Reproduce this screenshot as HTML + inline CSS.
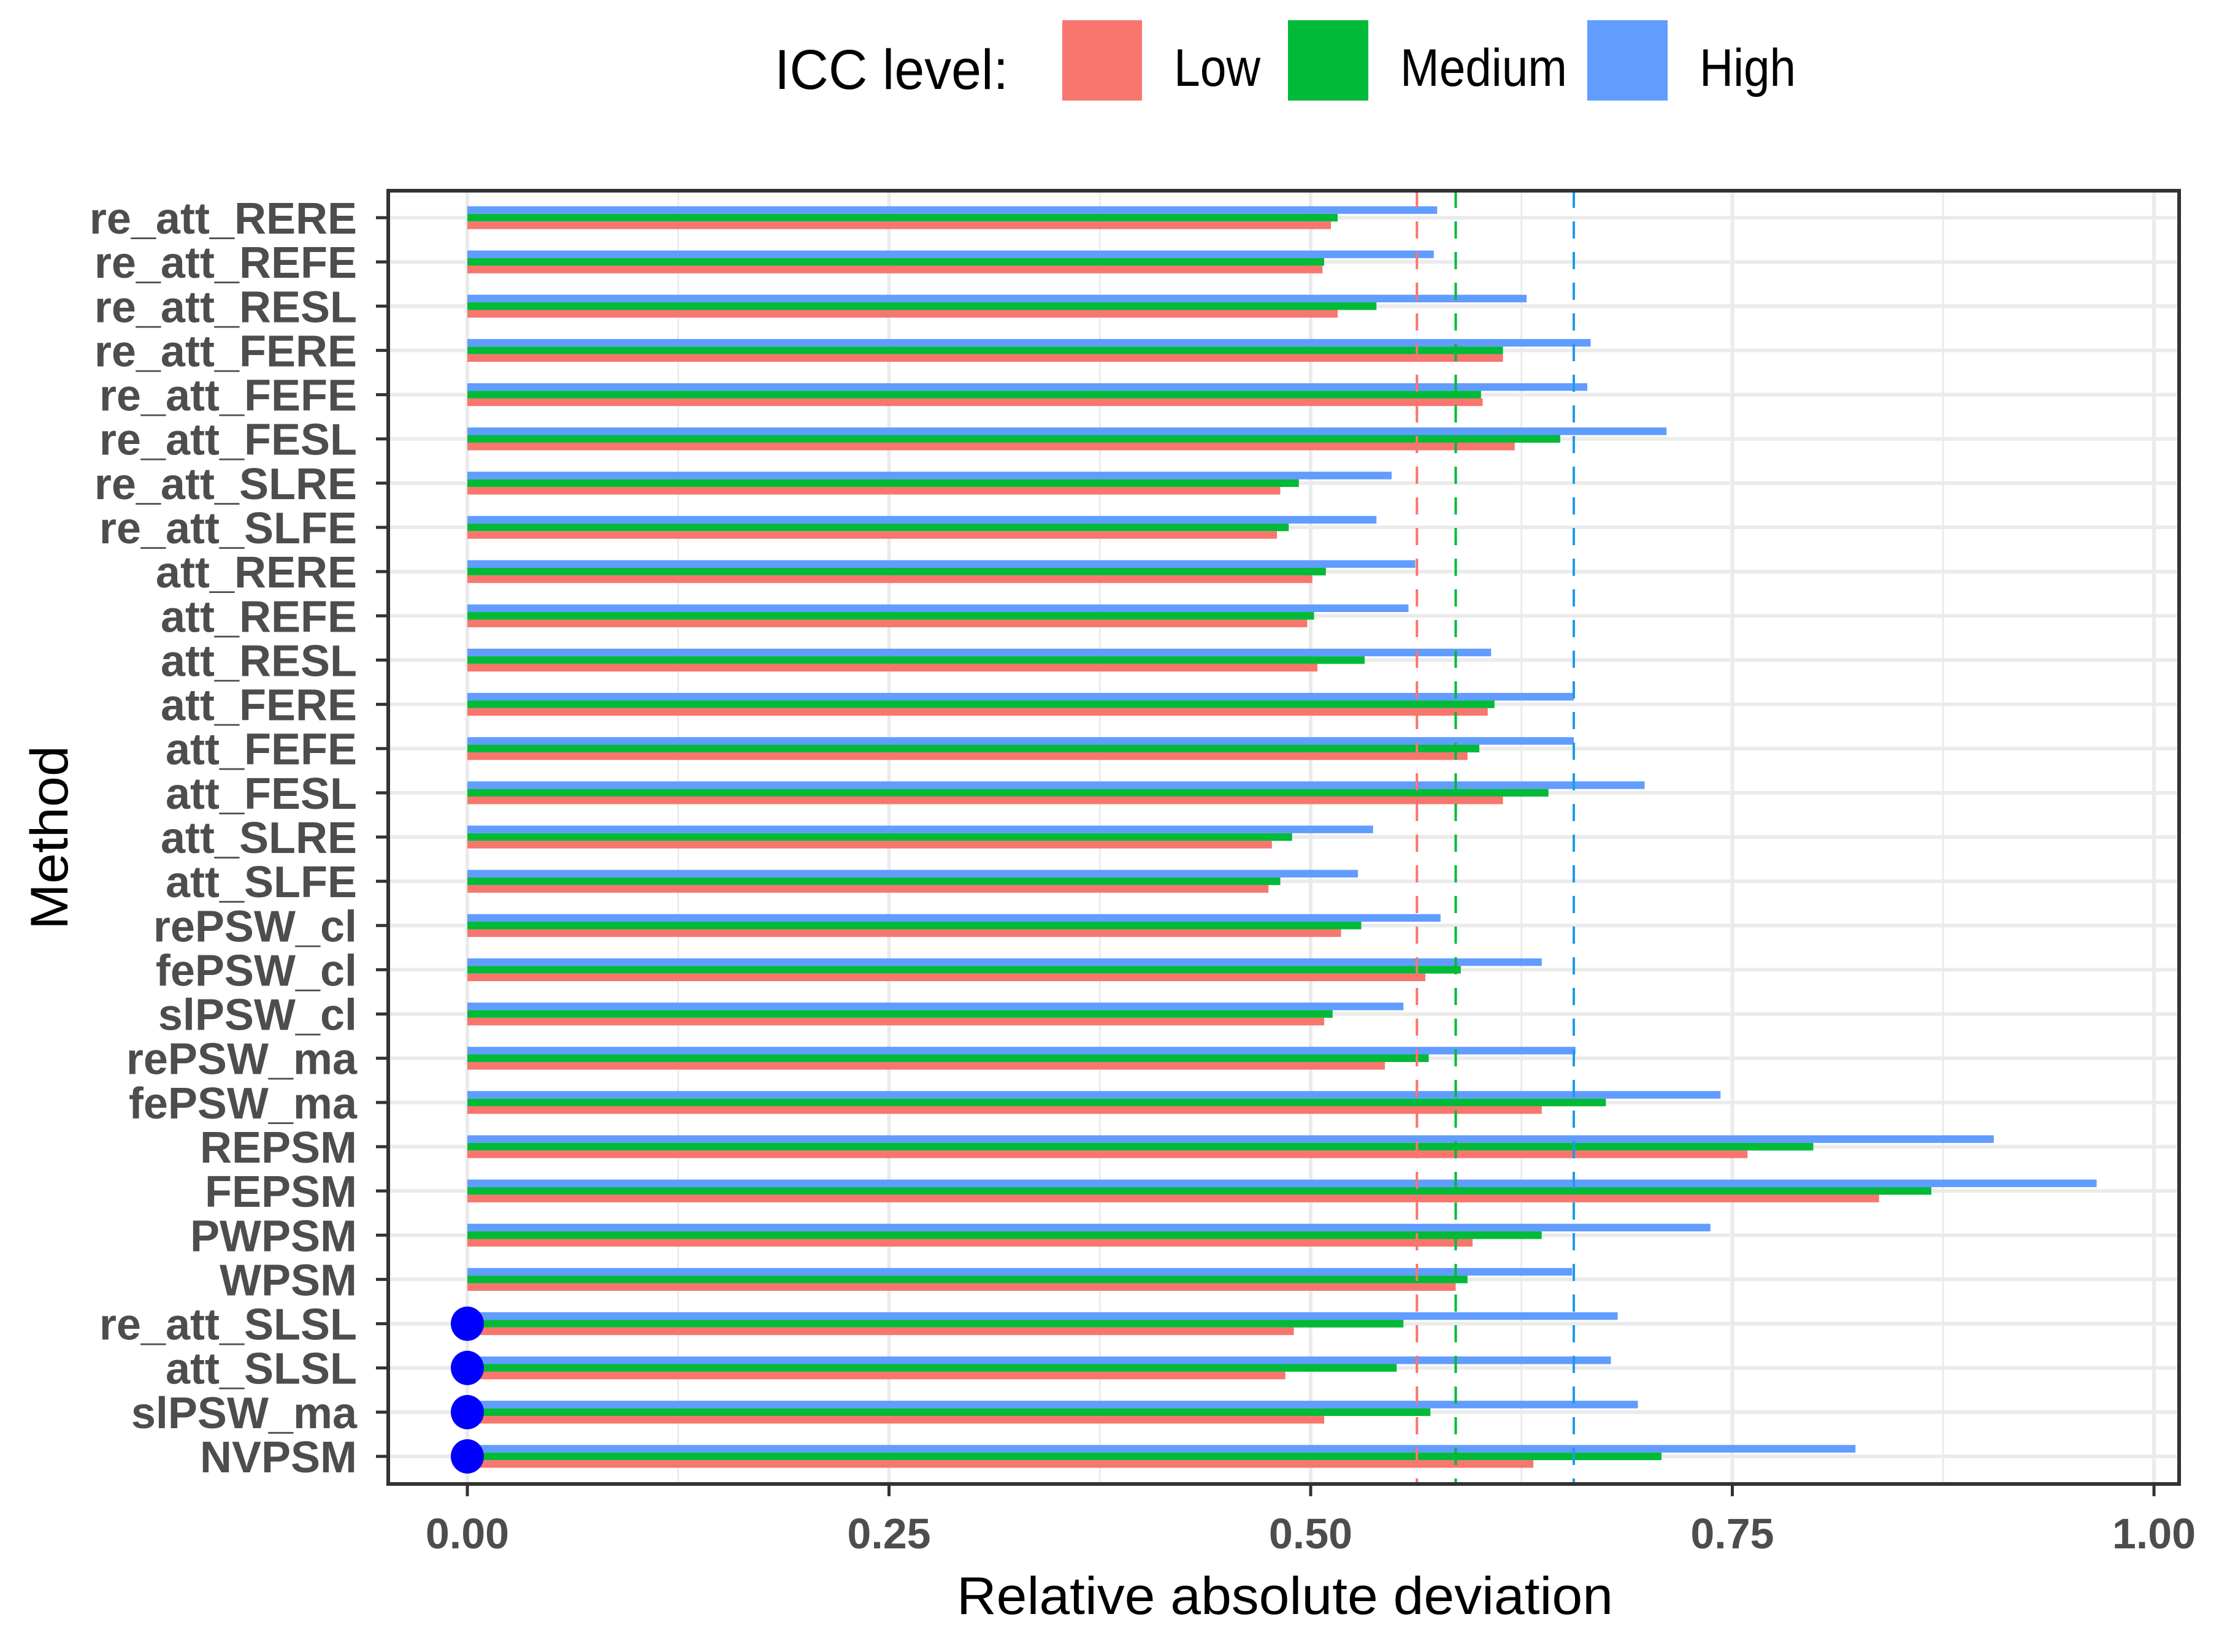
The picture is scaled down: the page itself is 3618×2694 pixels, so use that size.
<!DOCTYPE html>
<html><head><meta charset="utf-8"><style>
html,body{margin:0;padding:0;background:#fff;}
svg{display:block;}
text{font-family:"Liberation Sans",sans-serif;}
</style></head><body>
<svg id="chart" width="3618" height="2694" viewBox="0 0 3618 2694" xmlns="http://www.w3.org/2000/svg">
<g id="legend">
  <text x="1263" y="145" font-size="92" fill="#000" textLength="381" lengthAdjust="spacingAndGlyphs">ICC level:</text>
  <rect x="1732" y="33" width="130" height="131" fill="#F8766D"/>
  <text x="1914" y="140" font-size="86" fill="#000" textLength="141" lengthAdjust="spacingAndGlyphs">Low</text>
  <rect x="2100" y="33" width="131" height="131" fill="#00BA38"/>
  <text x="2283" y="140" font-size="86" fill="#000" textLength="272" lengthAdjust="spacingAndGlyphs">Medium</text>
  <rect x="2588" y="33" width="131" height="131" fill="#619CFF"/>
  <text x="2771" y="140" font-size="86" fill="#000" textLength="157" lengthAdjust="spacingAndGlyphs">High</text>
</g>
<g id="plot"></g>
<text x="1560" y="2632" font-size="86" fill="#000" textLength="1070" lengthAdjust="spacingAndGlyphs">Relative absolute deviation</text>
<text font-size="86" fill="#000" text-anchor="middle" textLength="300" lengthAdjust="spacingAndGlyphs" transform="translate(110,1366) rotate(-90)">Method</text>
</svg>
<script>
const categories = ["re_att_RERE","re_att_REFE","re_att_RESL","re_att_FERE","re_att_FEFE","re_att_FESL","re_att_SLRE","re_att_SLFE","att_RERE","att_REFE","att_RESL","att_FERE","att_FEFE","att_FESL","att_SLRE","att_SLFE","rePSW_cl","fePSW_cl","slPSW_cl","rePSW_ma","fePSW_ma","REPSM","FEPSM","PWPSM","WPSM","re_att_SLSL","att_SLSL","slPSW_ma","NVPSM"];
const highValues = [0.575,0.573,0.628,0.666,0.664,0.711,0.548,0.539,0.562,0.558,0.607,0.656,0.656,0.698,0.537,0.528,0.577,0.637,0.555,0.657,0.743,0.905,0.966,0.737,0.655,0.682,0.678,0.694,0.823];
const mediumValues = [0.516,0.508,0.539,0.614,0.601,0.648,0.493,0.487,0.509,0.502,0.532,0.609,0.600,0.641,0.489,0.482,0.530,0.589,0.513,0.570,0.675,0.798,0.868,0.637,0.593,0.555,0.551,0.571,0.708];
const lowValues = [0.512,0.507,0.516,0.614,0.602,0.621,0.482,0.480,0.501,0.498,0.504,0.605,0.593,0.614,0.477,0.475,0.518,0.568,0.508,0.544,0.637,0.759,0.837,0.596,0.586,0.490,0.485,0.508,0.632];
const meanLines = [0.563,0.586,0.656];
const zeroFlags = ["re_att_SLSL","att_SLSL","slPSW_ma","NVPSM"];
const xTicks = [0,0.25,0.5,0.75,1];
const xTickLabels = ["0.00","0.25","0.50","0.75","1.00"];

const NS="http://www.w3.org/2000/svg";
const P={l:633,r:3553,t:311,b:2420};
const x=v=>762+v*2750;
const g=document.getElementById('plot');
function mk(tag,a){const e=document.createElementNS(NS,tag);for(const k in a)e.setAttribute(k,a[k]);g.appendChild(e);return e;}
const step=(2375-355)/(categories.length-1);
const yy=i=>355+i*step;
for(let k=0;k<xTicks.length-1;k++){
  const m=(xTicks[k]+xTicks[k+1])/2;
  const e=mk('line',{x1:x(m),x2:x(m),y1:P.t,y2:P.b,stroke:'#ebebeb','stroke-width':3});
  
  
}
xTicks.forEach(v=>{
  const e=mk('line',{x1:x(v),x2:x(v),y1:P.t,y2:P.b,stroke:'#ebebeb','stroke-width':6});
  
  
});
categories.forEach((c,i)=>{
  const e=mk('line',{x1:P.l,x2:P.r,y1:yy(i),y2:yy(i),stroke:'#ebebeb','stroke-width':6});
  
  
});
const bh=12.4;
const series=[[highValues,'#619CFF','high'],[mediumValues,'#00BA38','medium'],[lowValues,'#F8766D','low']];
categories.forEach((c,i)=>{
  series.forEach((s,j)=>{
    const v=s[0][i];
    const r=mk('rect',{x:x(0),y:yy(i)-bh*1.5+j*bh,width:x(v)-x(0),height:bh,fill:s[1]});
    
    
  });
});
const lc=['#F8766D','#00BA38','#1E9BE8'];
meanLines.forEach((v,k)=>{
  const e=mk('line',{x1:x(v),x2:x(v),y1:P.t,y2:P.b,stroke:lc[k],'stroke-width':4,'stroke-dasharray':'28 22'});
  
  
});
zeroFlags.forEach(c=>{
  const i=categories.indexOf(c);
  const e=mk('ellipse',{cx:x(0),cy:yy(i),rx:27,ry:28,fill:'#0000FF'});
  
  
});
const b=mk('rect',{x:P.l,y:P.t,width:P.r-P.l,height:P.b-P.t,fill:'none',stroke:'#333','stroke-width':6});


categories.forEach((c,i)=>{
  const t=mk('line',{x1:P.l-20,x2:P.l,y1:yy(i),y2:yy(i),stroke:'#333','stroke-width':5});
  
  
  const tx=mk('text',{x:582,y:yy(i)+26,'font-size':72,'font-weight':'bold',fill:'#4d4d4d','text-anchor':'end'});
  tx.textContent=c;
  
  
});
xTicks.forEach((v,k)=>{
  const t=mk('line',{x1:x(v),x2:x(v),y1:P.b,y2:P.b+20,stroke:'#333','stroke-width':5});
  
  
  const tx=mk('text',{x:x(v),y:2525,'font-size':70,'font-weight':'bold',fill:'#4d4d4d','text-anchor':'middle'});
  tx.textContent=xTickLabels[k];
  
  
});
</script>
</body></html>
